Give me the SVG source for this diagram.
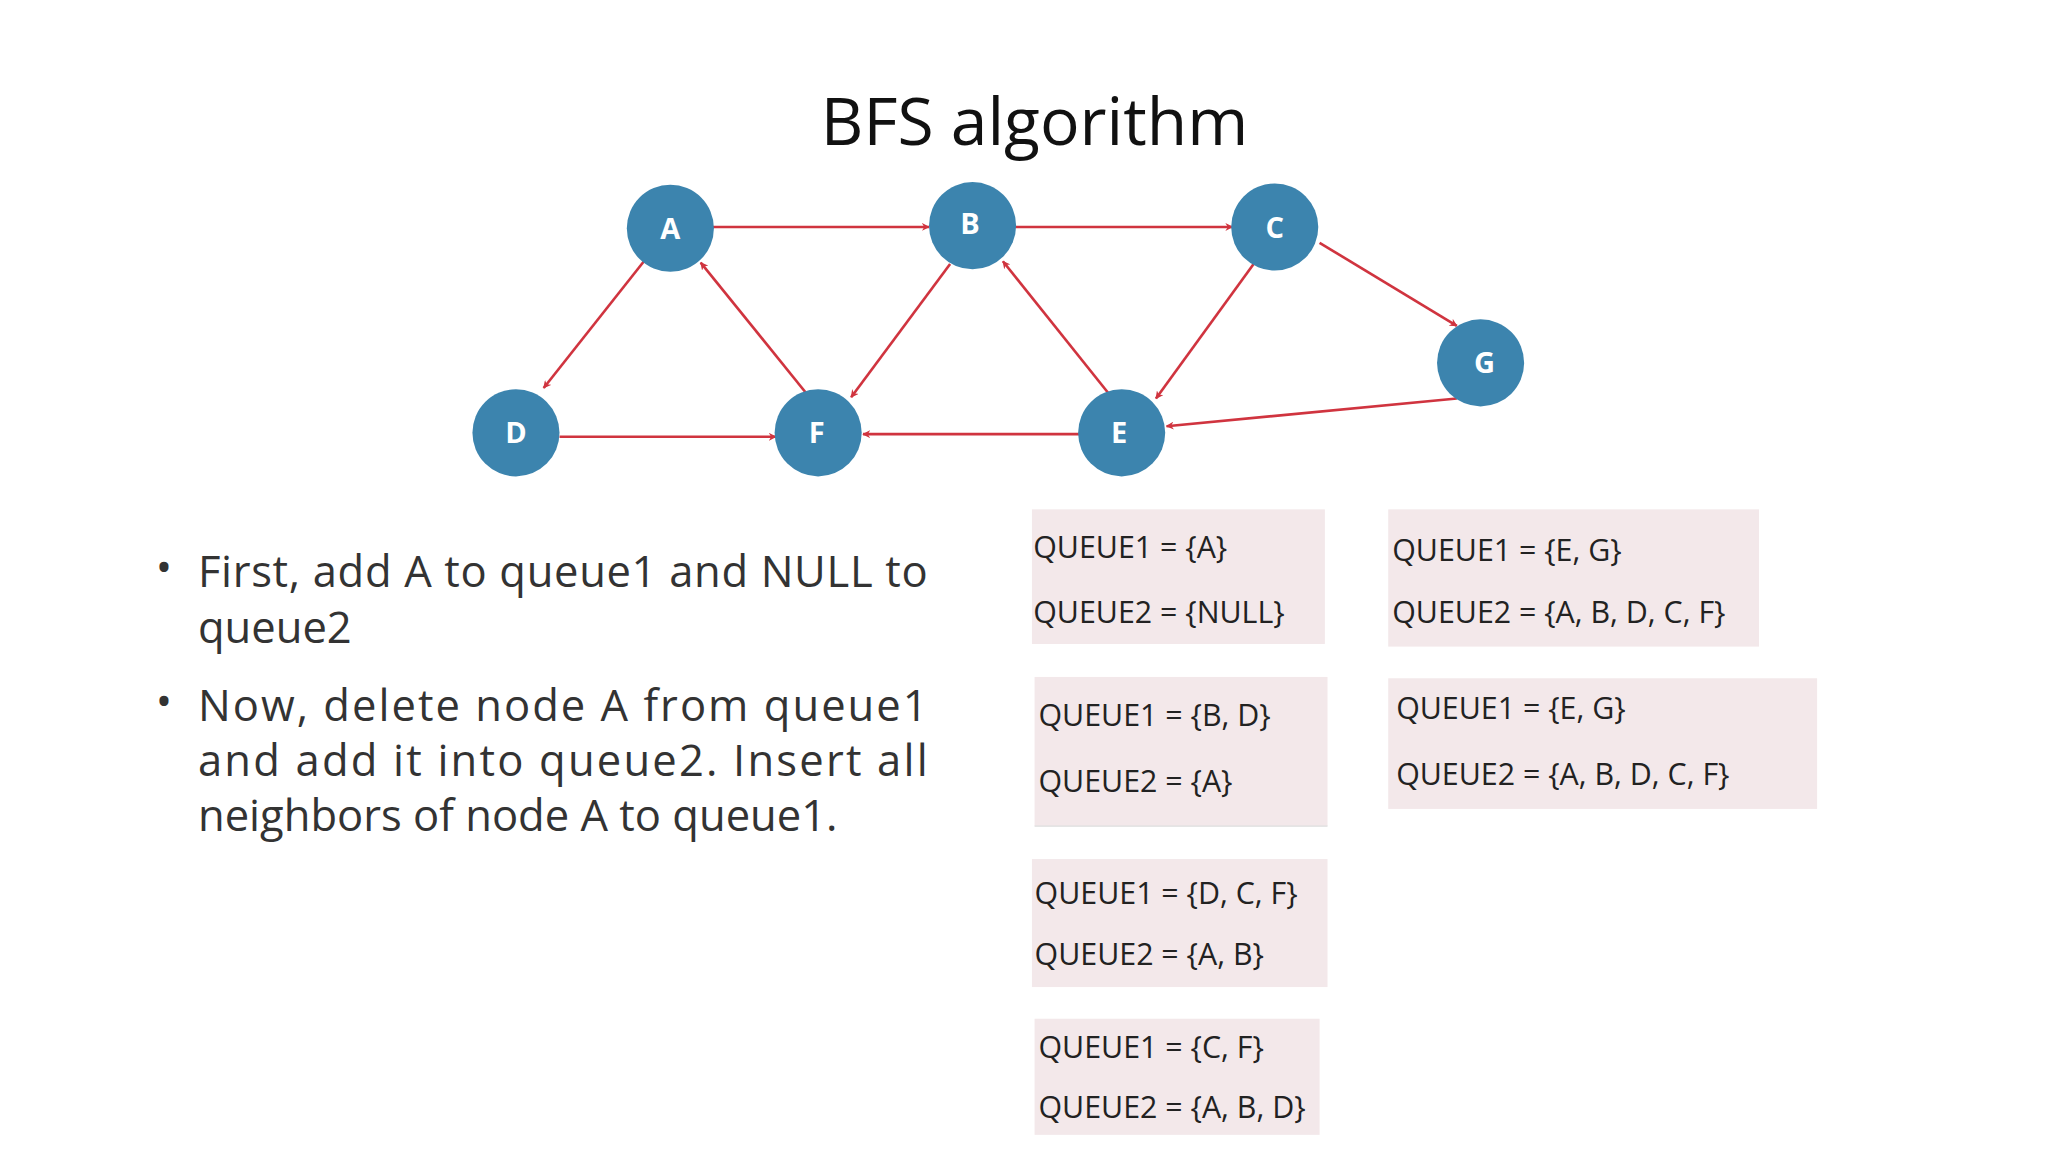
<svg xmlns="http://www.w3.org/2000/svg" width="2048" height="1152" viewBox="0 0 2048 1152">
<defs>
<marker id="ah" viewBox="0 0 10 10" refX="9" refY="5" markerWidth="6" markerHeight="6" orient="auto" markerUnits="userSpaceOnUse"><path d="M0,0 L10,5 L0,10 L3,5 z" fill="#D0343F"/></marker>
<style>
.n{fill:#3C84AE}
.nl{fill:#fff;font-family:"Open Sans",sans-serif;font-weight:bold;font-size:22px;text-anchor:middle}
.e{stroke:#D0343F;stroke-width:2;fill:none;marker-end:url(#ah)}
.b{fill:#F3E8EA}
.q{font-family:"Open Sans",sans-serif;font-size:23px;fill:#222}
.t{font-family:"Open Sans",sans-serif;font-size:33px;fill:#333}
</style>
</defs>
<rect width="2048" height="1152" fill="#fff"/>
<g transform="scale(1.3196)">
<text x="784" y="110" font-family="Open Sans, sans-serif" font-size="50" text-anchor="middle" fill="#111">BFS algorithm</text>
<g id="connectors">
<line class="e" x1="540" y1="172" x2="704" y2="172" marker-end="url(#ah)" style="marker-end:url(#ah)"/>
<line class="e" x1="769" y1="172" x2="934" y2="172"/>
<line class="e" x1="1000" y1="184" x2="1104" y2="247"/>
<line class="e" x1="1104" y1="302" x2="884" y2="323"/>
<line class="e" x1="818" y1="329" x2="654" y2="329"/>
<line class="e" x1="424" y1="331" x2="588" y2="331"/>
<line class="e" x1="488" y1="198" x2="412" y2="294"/>
<line class="e" x1="611" y1="298" x2="531" y2="199"/>
<line class="e" x1="720" y1="200" x2="645" y2="301"/>
<line class="e" x1="840" y1="298" x2="760" y2="198"/>
<line class="e" x1="950" y1="200" x2="876" y2="302"/>
</g>
<g id="A"><circle class="n" cx="508" cy="173" r="33"/><text class="nl" x="508" y="181">A</text></g>
<g id="B"><circle class="n" cx="737" cy="171" r="33"/><text class="nl" x="735" y="177">B</text></g>
<g id="C"><circle class="n" cx="966" cy="172" r="33"/><text class="nl" x="966" y="180">C</text></g>
<g id="G"><circle class="n" cx="1122" cy="275" r="33"/><text class="nl" x="1125" y="283">G</text></g>
<g id="D"><circle class="n" cx="391" cy="328" r="33"/><text class="nl" x="391" y="336">D</text></g>
<g id="F"><circle class="n" cx="620" cy="328" r="33"/><text class="nl" x="619" y="336">F</text></g>
<g id="E"><circle class="n" cx="850" cy="328" r="33"/><text class="nl" x="848" y="336">E</text></g>
<g id="bullets">
<text class="t" x="118" y="442">•</text>
<text class="t" x="150" y="445" textLength="553">First, add A to queue1 and NULL to</text>
<text class="t" x="150" y="487">queue2</text>
<text class="t" x="118" y="543">•</text>
<text class="t" x="150" y="546" textLength="553">Now, delete node A from queue1</text>
<text class="t" x="150" y="588" textLength="553">and add it into queue2. Insert all</text>
<text class="t" x="150" y="630">neighbors of node A to queue1.</text>
</g>
<g id="q1"><rect class="b" x="782" y="386" width="222" height="102"/><text class="q" x="783" y="423">QUEUE1 = {A}</text><text class="q" x="783" y="472">QUEUE2 = {NULL}</text></g>
<g id="q2"><rect class="b" x="784" y="513" width="222" height="113"/><line x1="784" y1="626" x2="1006" y2="626" stroke="#ddd"/><text class="q" x="787" y="550">QUEUE1 = {B, D}</text><text class="q" x="787" y="600">QUEUE2 = {A}</text></g>
<g id="q3"><rect class="b" x="782" y="651" width="224" height="97"/><text class="q" x="784" y="685">QUEUE1 = {D, C, F}</text><text class="q" x="784" y="731">QUEUE2 = {A, B}</text></g>
<g id="q4"><rect class="b" x="784" y="772" width="216" height="88"/><text class="q" x="787" y="802">QUEUE1 = {C, F}</text><text class="q" x="787" y="847">QUEUE2 = {A, B, D}</text></g>
<g id="q5"><rect class="b" x="1052" y="386" width="281" height="104"/><text class="q" x="1055" y="425">QUEUE1 = {E, G}</text><text class="q" x="1055" y="472">QUEUE2 = {A, B, D, C, F}</text></g>
<g id="q6"><rect class="b" x="1052" y="514" width="325" height="99"/><text class="q" x="1058" y="545" font-size="25">QUEUE1 = {E, G}</text><text class="q" x="1058" y="595" font-size="25">QUEUE2 = {A, B, D, C, F}</text></g>
</g>
</svg>
